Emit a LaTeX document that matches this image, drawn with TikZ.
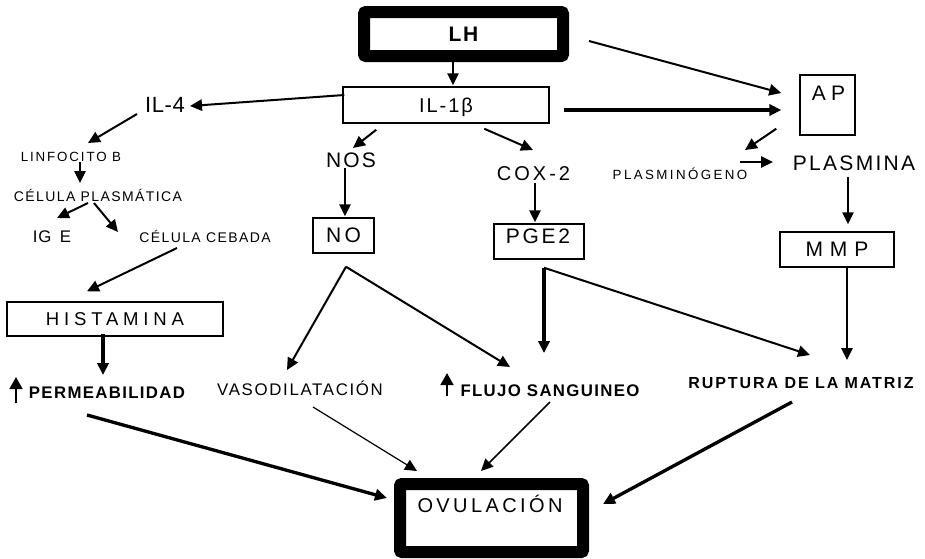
\documentclass[tikz,border=0pt]{standalone}
\usepackage{fontspec}
\setmainfont{Liberation Sans}
\usetikzlibrary{arrows.meta,calc}
\newcommand{\lsf}[2]{\fontsize{#1}{#1}\selectfont\addfontfeature{LetterSpace=#2}}
\begin{document}
\begin{tikzpicture}[x=0.75pt,y=-0.75pt,
  txt/.style={inner sep=0pt, anchor=base},
  box/.style={draw, line width=1.1pt, inner sep=0pt, text depth=0pt},
  heavybox/.style={draw, line width=9pt, rounded corners=1.5pt, inner sep=0pt, text depth=0pt},
  tip/.style={-{Triangle[length=9pt,width=8.5pt]}},
  arr/.style={tip, line width=1.5pt},
  thickarr/.style={tip, line width=2.5pt},
  thinarr/.style={tip, line width=0.9pt},
  midarr/.style={tip, line width=1.1pt},
  uparr/.style={line width=2pt, -{Triangle[length=9pt,width=9.5pt]}}
]
\useasboundingbox (0,0) rectangle (925,558);

% boxes
\node[heavybox, minimum width=149.25pt, minimum height=33pt, font=\bfseries\lsf{15.75pt}{8}] (lh) at (463.5,34) {LH};
\node[box, minimum width=154.5pt, minimum height=27pt, font=\lsf{15pt}{10}] (il1) at (446,105) {IL-1β};
\node[box, minimum width=41.25pt, minimum height=45pt] (ap) at (827.5,105) {};
\node[txt, font=\lsf{15.75pt}{24}] (apt) at (828.5,100) {AP};
\node[box, minimum width=45.75pt, minimum height=26.25pt, font=\lsf{15.75pt}{16}] (no) at (343.5,235.5) {NO};
\node[box, minimum width=67.5pt, minimum height=26.25pt] (pge) at (539,241.5) {};
\node[txt, font=\lsf{15.75pt}{13}] (pget) at (538,243) {PGE2};
\node[box, minimum width=85.5pt, minimum height=26.25pt, font=\lsf{15.75pt}{33}] (mmp) at (837,249.5) {MMP};
\node[box, minimum width=162pt, minimum height=25.5pt, font=\lsf{13.9pt}{26}] (hist) at (115,319) {HISTAMINA};
\node[heavybox, minimum width=137.25pt, minimum height=51pt] (ovu) at (491.5,518) {};
\node[txt, font=\lsf{15pt}{17}] (ovut) at (490,512.7) {OVULACIÓN};

% texts
\node[txt, font=\lsf{16.5pt}{3}] (il4) at (165,112) {IL-4};
\node[txt, font=\lsf{10pt}{14}] (linf) at (71,161) {LINFOCITO B};
\node[txt, font=\lsf{10.5pt}{10}] (celp) at (98,201) {CÉLULA PLASMÁTICA};
\node[txt, font=\lsf{12.6pt}{5}] (ige) at (52,242) {IG\enspace E};
\node[txt, font=\lsf{10.5pt}{10}] (ceb) at (205,242) {CÉLULA CEBADA};
\node[txt, font=\lsf{15.75pt}{10}] (nos) at (351,167) {NOS};
\node[txt, font=\lsf{15pt}{15}] (cox) at (533.5,180) {COX-2};
\node[txt, font=\lsf{15.75pt}{11}] (pla) at (854,170) {PLASMINA};
\node[txt, font=\lsf{10pt}{18}] (plg) at (680,179) {PLASMINÓGENO};
\node[txt, font=\bfseries\lsf{12.6pt}{8}] (perm) at (107,398) {PERMEABILIDAD};
\node[txt, font=\lsf{12.6pt}{10}] (vaso) at (300,395) {VASODILATACIÓN};
\node[txt, font=\bfseries\lsf{12.6pt}{8}] (flu) at (550,396) {FLUJO SANGUINEO};
\node[txt, font=\bfseries\lsf{12pt}{12}] (rup) at (801,388) {RUPTURA DE LA MATRIZ};

% up arrows
\coordinate (pu1) at ($(perm.base)+(-91,5)$);
\coordinate (pu2) at ($(perm.base)+(-91,-21)$);
\draw[uparr] (pu1) -- (pu2);
\coordinate (fu1) at ($(flu.base)+(-103,0)$);
\coordinate (fu2) at ($(flu.base)+(-103,-23)$);
\draw[uparr] (fu1) -- (fu2);

% connectors
\draw[arr] ($(lh.south)+(-10.5,-4)$) -- ($(il1.north)+(7,-1)$);
\draw[arr] ($(il1.west)+(2,-10)$) -- ($(il4.base)+(25,-6)$);
\draw[arr] ($(il4.base)+(-28,2)$) -- ($(linf.base)+(17,-18)$);
\draw[arr] ($(linf.base)+(9,1)$) -- ($(celp.base)+(-18,-18)$);
\draw[arr] ($(celp.base)+(-10,2)$) -- ($(ige.base)+(5,-24)$);
\draw[arr] ($(celp.base)+(-4,2)$) -- ($(ceb.base)+(-87,-10)$);
\draw[arr] ($(ceb.base)+(-28,6)$) -- ($(hist.north)+(-28,-10)$);
\draw[thickarr] ($(hist.south)+(-12,-3)$) -- ($(perm.base)+(-4,-23)$);
\draw[arr] ($(il1.south west)+(34,6)$) -- ($(nos.base)+(2,-19)$);
\draw[arr] ($(nos.base)+(-6,1)$) -- ($(no.north)+(1.5,-1)$);
\draw[arr] ($(il1.south west)+(142,5)$) -- ($(cox.base)+(-0.5,-30)$);
\draw[arr] ($(cox.base)+(1.5,3)$) -- ($(pge.north)+(-4,-1)$);
\draw[arr] ($(lh.east)+(20,7)$) -- ($(ap.west)+(-18,-12)$);
\draw[thickarr] ($(il1.east)+(14,5)$) -- ($(ap.west)+(-18,5)$);
\draw[arr] ($(ap.south west)+(-23,-7)$) -- ($(plg.base)+(65,-29)$);
\draw[arr] ($(plg.base)+(60,-17)$) -- ($(pla.base)+(-81,-8)$);
\draw[arr] ($(pla.base)+(-6,7)$) -- ($(mmp.north)+(11,-7)$);
\draw[arr] ($(mmp.south)+(10,-2)$) -- ($(rup.base)+(46,-28)$);
\draw[thickarr] ($(pge.south)+(5,8)$) -- ($(flu.base)+(-6,-43)$);
\draw[arr] ($(pge.south)+(5,8)$) -- ($(rup.base)+(9,-33)$);
\draw[arr] ($(no.south)+(2.5,13)$) -- ($(vaso.base)+(-13,-25)$);
\draw[arr] ($(no.south)+(2.5,13)$) -- ($(flu.base)+(-40,-29)$);
\draw[thickarr] ($(perm.base)+(-20,17)$) -- ($(ovu.west)+(-7,-20)$);
\draw[thinarr] ($(vaso.base)+(13,12)$) -- ($(ovu.north west)+(23,-7)$);
\draw[midarr] ($(flu.base)+(0,6)$) -- ($(ovu.north west)+(87,-7)$);
\draw[thickarr] ($(rup.base)+(-9,14)$) -- ($(ovu.east)+(14,-14)$);
\end{tikzpicture}
\end{document}
